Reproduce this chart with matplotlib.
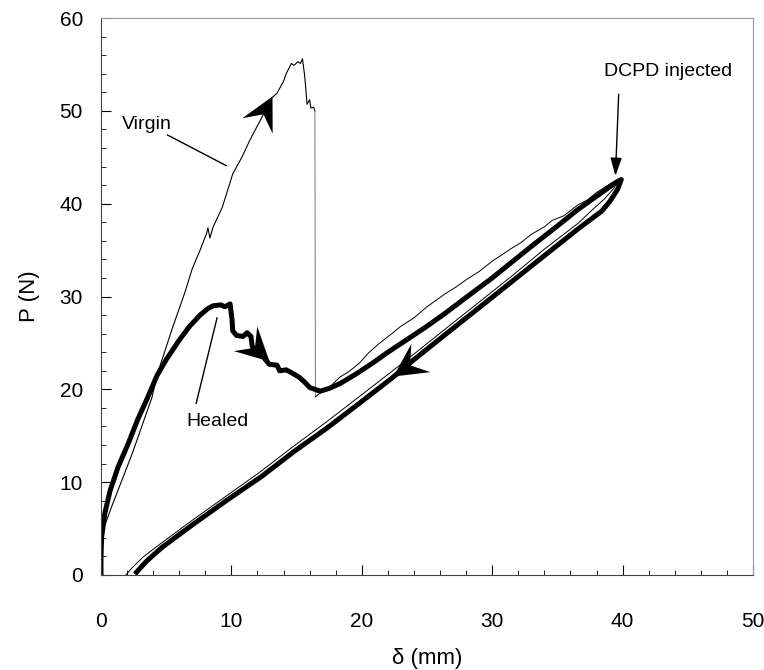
import numpy as np
import matplotlib
matplotlib.use("Agg")
import matplotlib.pyplot as plt
from matplotlib.path import Path
from matplotlib.ticker import MultipleLocator

plt.rcParams['font.family'] = ['Liberation Sans', 'DejaVu Sans']

# Virgin specimen: loading up to fracture
virgin_load_x = [0, 0.0, 0.15, 0.8, 1.6, 2.4, 3.1, 3.9, 4.4, 5.5, 6.4, 7.0, 7.6, 8.1, 8.2,
                 8.35, 8.6, 9.3, 10.1, 10.8, 11.4, 12.3, 13.1, 13.5, 14.0, 14.2, 14.6, 14.8,
                 15.1, 15.3, 15.45, 15.6, 15.7, 15.8, 16.0, 16.1, 16.3, 16.4]
virgin_load_y = [0, 2.5, 4.8, 7.3, 10.2, 13.1, 15.9, 19.1, 22.0, 26.7, 30.3, 33.0, 35.0, 36.8, 37.4,
                 36.3, 37.5, 39.6, 43.2, 45.0, 46.8, 49.2, 51.4, 51.9, 53.2, 54.0, 55.1, 54.9,
                 55.3, 55.1, 55.6, 54.0, 52.5, 50.7, 51.2, 50.3, 50.4, 50.0]
# sudden load drop after fracture
virgin_drop_x = [16.4, 16.45]
virgin_drop_y = [50.0, 19.2]
# reloading and unloading of the virgin specimen
virgin_rest_x = [16.45, 16.8, 17.5, 18.3, 19.0, 19.8, 20.5, 21.3, 22.3, 23.0, 24.0, 25.0, 26.4,
                 27.2, 28.0, 29.0, 30.0, 31.5, 32.2, 33.0, 34.0, 34.6, 35.5, 36.6, 37.3, 38.0,
                 39.1, 39.7,
                 39.3, 38.6, 37.8, 36.6, 34.0, 31.5, 29.0, 26.4, 24.0, 22.0, 19.7, 17.2, 14.7,
                 12.2, 9.6, 7.0, 4.5, 3.2, 2.4, 1.9]
virgin_rest_y = [19.2, 19.6, 20.2, 21.3, 21.9, 22.8, 23.9, 24.9, 26.0, 26.8, 27.7, 28.9, 30.3,
                 31.0, 31.8, 32.7, 33.8, 35.2, 35.8, 36.7, 37.5, 38.2, 38.7, 39.9, 40.4, 41.2,
                 42.2, 42.6,
                 41.6, 40.5, 39.5, 37.9, 35.1, 32.2, 29.4, 26.5, 23.8, 21.6, 19.1, 16.4, 13.8,
                 11.1, 8.5, 5.9, 3.3, 1.9, 0.8, 0.0]

# Healed specimen: loading, DCPD injection point, unloading
healed_x = [0, 0, 0.05, 0.3, 0.7, 1.3, 2.1, 2.8, 3.6, 4.3, 5.0, 6.0, 6.8, 7.6, 8.2, 8.6, 9.2,
            9.5, 9.9, 10.05, 10.1, 10.4, 10.9, 11.2, 11.5, 11.6, 12.2, 12.9, 13.5, 13.7, 14.2,
            14.6, 15.2, 15.6, 16.0, 16.4, 16.8, 17.5, 18.3, 19.5, 20.8, 22.0, 23.4, 25.0, 26.4,
            28.0, 30.0, 31.5, 33.0, 35.0, 36.6, 38.0, 39.5, 39.9,
            39.6, 39.0, 38.4, 36.6, 34.0, 31.5, 29.0, 26.4, 24.0, 22.3, 20.0, 17.3, 14.8, 12.3,
            9.7, 7.2, 4.7, 3.5, 2.6]
healed_y = [0, 2.0, 4.1, 6.7, 9.1, 11.6, 14.2, 16.7, 19.2, 21.5, 23.2, 25.3, 26.8, 28.0, 28.7,
            29.0, 29.1, 28.9, 29.2, 27.5, 26.3, 25.8, 25.7, 26.1, 25.7, 24.6, 23.9, 22.7, 22.6,
            22.0, 22.1, 21.8, 21.3, 20.8, 20.2, 20.0, 19.8, 20.1, 20.6, 21.6, 22.8, 24.0, 25.3,
            26.8, 28.2, 29.9, 32.0, 33.7, 35.4, 37.6, 39.4, 40.8, 42.3, 42.6,
            41.5, 40.2, 39.2, 37.3, 34.4, 31.6, 28.8, 25.9, 23.2, 21.2, 18.7, 15.8, 13.3, 10.6,
            8.1, 5.6, 3.0, 1.5, 0.1]

# direction arrows on the curves: tip position and screen angle (deg)
arrow_tips = [(13.1, 51.6), (12.9, 23.0), (22.4, 21.4)]
arrow_angles = [63, -43.5, 214]


def stealth_marker(angle):
    # arrowhead outline in pixels, tip at the origin
    verts = np.array([[0, 0], [-33, 17], [-20, 0], [-33, -17], [0, 0]], float)
    a = np.deg2rad(angle)
    rot = np.array([[np.cos(a), -np.sin(a)], [np.sin(a), np.cos(a)]])
    verts = verts @ rot.T
    codes = [Path.MOVETO, Path.LINETO, Path.LINETO, Path.LINETO, Path.CLOSEPOLY]
    size = 2 * np.abs(verts).max() * 72 / 100
    return Path(verts, codes), size


fig = plt.figure(figsize=(7.64, 6.70), dpi=100)
ax = fig.add_axes([0.1322, 0.1418, 0.8534, 0.8313])

ax.plot(virgin_load_x, virgin_load_y, color='black', lw=0.8)
ax.plot(virgin_drop_x, virgin_drop_y, color='#888888', lw=0.8)
ax.plot(virgin_rest_x, virgin_rest_y, color='black', lw=0.7)
ax.plot(healed_x, healed_y, color='black', lw=3.6, solid_joinstyle='round', solid_capstyle='butt')

for (tx, ty), ang in zip(arrow_tips, arrow_angles):
    m, ms = stealth_marker(ang)
    ax.plot([tx], [ty], marker=m, markersize=ms, color='black',
            markeredgewidth=0, linestyle='none')

# labels
ax.text(3.5, 48.5, 'Virgin', fontsize=14, ha='center', va='center')
ax.plot([5.1, 9.6], [47.4, 44.1], color='black', lw=1.0)
ax.text(8.9, 16.5, 'Healed', fontsize=14, ha='center', va='center')
ax.plot([7.3, 8.9], [18.5, 27.7], color='black', lw=1.0)
ax.text(38.6, 54.2, 'DCPD injected', fontsize=14, ha='left', va='center')
ax.annotate('', xy=(39.45, 43.0), xytext=(39.7, 51.8),
            arrowprops=dict(arrowstyle='-|>,head_length=1.1,head_width=0.35',
                            color='black', lw=1.0, shrinkA=0, shrinkB=0))

ax.set_xlim(0, 50)
ax.set_ylim(0, 60)
ax.xaxis.set_major_locator(MultipleLocator(10))
ax.xaxis.set_minor_locator(MultipleLocator(2))
ax.yaxis.set_major_locator(MultipleLocator(10))
ax.yaxis.set_minor_locator(MultipleLocator(2))
ax.tick_params(which='both', direction='in', labelsize=15)
ax.tick_params(which='major', length=7, width=0.8)
ax.tick_params(which='minor', length=3.5, width=0.6)
ax.tick_params(axis='x', which='major', pad=27)
ax.tick_params(axis='y', which='major', pad=13)

for s in ['left', 'bottom']:
    ax.spines[s].set_color('#444444')
    ax.spines[s].set_linewidth(0.8)
for s in ['top', 'right']:
    ax.spines[s].set_color('#999999')
    ax.spines[s].set_linewidth(0.8)

ax.set_xlabel('δ (mm)', fontsize=16, labelpad=12)
ax.set_ylabel('P (N)', fontsize=16, labelpad=14)

fig.savefig('out.png', dpi=100)
